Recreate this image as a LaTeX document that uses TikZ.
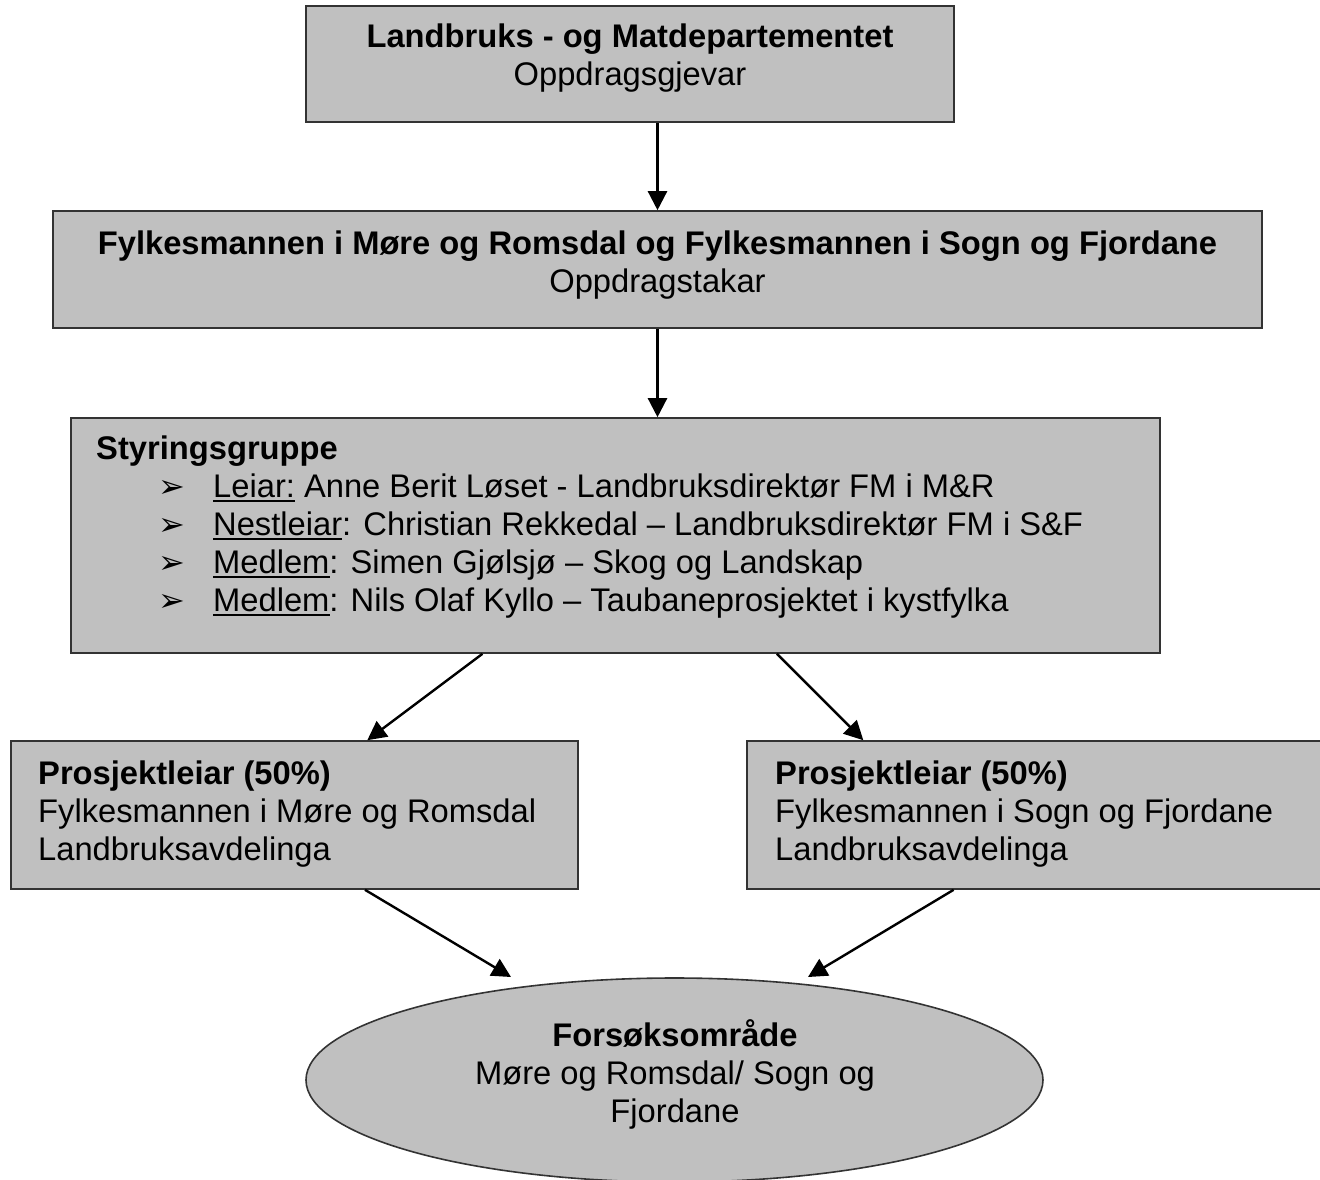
\documentclass[tikz,border=0pt]{standalone}
\usepackage{fontspec}
\setmainfont{Liberation Sans}
\newfontfamily\dejavu{DejaVu Sans}
\usetikzlibrary{shapes.geometric,arrows.meta,calc}

\definecolor{boxgray}{RGB}{192,192,192}
\newcommand\ulword[1]{\setbox0\hbox{#1}\rlap{\rule[-4.5pt]{\wd0}{1.8pt}}\box0\relax}
\newcommand\pil{\hspace*{62pt}\makebox[55pt][l]{\fontsize{32}{32}\selectfont\dejavu ➢}}

\begin{document}
\begin{tikzpicture}[x=1pt,y=-1pt,
    box/.style={draw=black!80, line width=1.6pt, fill=boxgray, inner sep=0pt},
    txt/.style={inner sep=0pt, font=\fontsize{32.7}{38}\selectfont},
    arr/.style={line width=2.4pt, -{Triangle[length=19pt,width=19pt]}}]
    \useasboundingbox (0,0) rectangle (1320,1179);

    % boksane
    \node[box, minimum width=648pt, minimum height=116pt] (dep) at (630,64) {};
    \node[box, minimum width=1209pt, minimum height=117pt] (fylke) at (657.5,269.5) {};
    \node[box, minimum width=1089pt, minimum height=235pt] (styr) at (615.5,535.5) {};
    \node[box, minimum width=567pt, minimum height=148pt] (plMR) at (294.5,815) {};
    \node[box, minimum width=581pt, minimum height=148pt] (plSF) at (1037.5,815) {};
    \node[box, ellipse, minimum width=737pt, minimum height=204pt] (forsok) at (674.5,1080) {};

    % tekstar
    \node[txt, anchor=north, align=center] (depT) at (630,20.4)
        {\strut\textbf{Landbruks - og Matdepartementet}\\Oppdragsgjevar};
    \node[txt, anchor=north, align=center] (fylkeT) at (657.5,227.4)
        {\strut\textbf{Fylkesmannen i Møre og Romsdal og Fylkesmannen i Sogn og Fjordane}\\Oppdragstakar};
    \node[txt, anchor=north west, align=left] (styrT) at (96,432.4)
        {\strut\textbf{Styringsgruppe}\\
         \pil\ulword{Leiar:} Anne Berit Løset - Landbruksdirektør FM i M\&R\\
         \pil\ulword{Nestleiar}: Christian Rekkedal – Landbruksdirektør FM i S\&F\\
         \pil\ulword{Medlem}: Simen Gjølsjø – Skog og Landskap\\
         \pil\ulword{Medlem}: Nils Olaf Kyllo – Taubaneprosjektet i kystfylka};
    \node[txt, anchor=north west, align=left] (plMRT) at (38,757.4)
        {\strut\textbf{Prosjektleiar (50\%)}\\Fylkesmannen i Møre og Romsdal\\Landbruksavdelinga};
    \node[txt, anchor=north west, align=left] (plSFT) at (775,757.4)
        {\strut\textbf{Prosjektleiar (50\%)}\\Fylkesmannen i Sogn og Fjordane\\Landbruksavdelinga};
    \node[txt, anchor=north, align=center] (forsokT) at (675,1019.4)
        {\strut\textbf{Forsøksområde}\\Møre og Romsdal/ Sogn og\\Fjordane};

    % piler
    \coordinate (tipL) at (511,977);
    \coordinate (tipR) at (808,977);
    \draw[arr] (dep.south -| fylke.north) -- (fylke.north);
    \draw[arr] (fylke.south) -- (fylke.south |- styr.north);
    \draw[arr] ($(styr.south west)!0.378!(styr.south east)$) -- ($(plMR.north west)!0.628!(plMR.north east)$);
    \draw[arr] ($(styr.south west)!0.648!(styr.south east)$) -- ($(plSF.north west)!0.201!(plSF.north east)$);
    \draw[arr] ($(plMR.south west)!0.624!(plMR.south east)$) -- (tipL);
    \draw[arr] ($(plSF.south west)!0.356!(plSF.south east)$) -- (tipR);
\end{tikzpicture}
\end{document}
